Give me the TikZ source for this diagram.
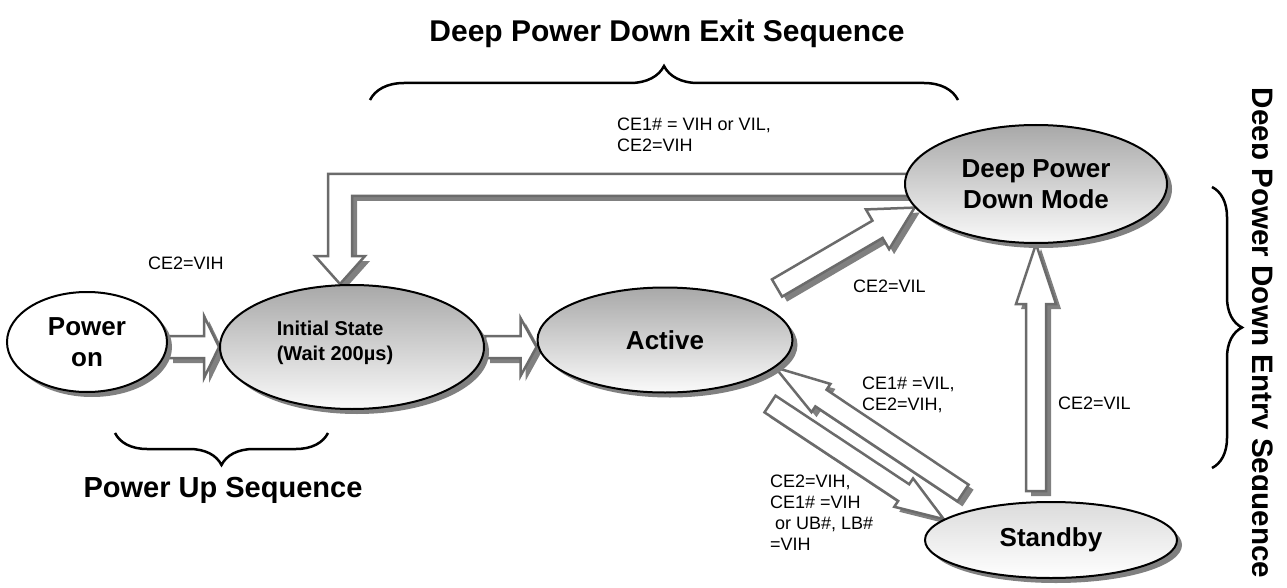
\documentclass[tikz,border=0pt]{standalone}
\usepackage{fontspec}
\setmainfont{Liberation Sans}
\usetikzlibrary{shapes.geometric,shadows,calc,backgrounds,decorations.pathreplacing}

\definecolor{ovaltop}{gray}{0.66}
\definecolor{ovalbot}{gray}{0.98}
\definecolor{sbytop}{gray}{0.86}
\definecolor{arrowline}{gray}{0.42}
\definecolor{shadowgray}{gray}{0.5}

\tikzset{
  oval/.style={ellipse, draw=black, line width=2pt, inner sep=0pt, align=center,
    font=\fontsize{26}{31}\selectfont\bfseries,
    drop shadow={shadow xshift=5pt, shadow yshift=-5pt, fill=shadowgray, opacity=1}},
  grayoval/.style={oval, top color=ovaltop, bottom color=ovalbot},
  whiteoval/.style={oval, fill=white},
  lightoval/.style={oval, top color=sbytop, bottom color=white},
  cond/.style={anchor=north west, inner sep=0pt, align=left, font=\fontsize{18}{21}\selectfont},
  seqtitle/.style={inner sep=0pt, anchor=base, font=\fontsize{30}{36}\selectfont\bfseries},
  seqbrace/.style={decorate, decoration={brace, amplitude=#1}, line width=2.5pt},
  blockbody/.style={draw=arrowline, line width=2.5pt, fill=white, line join=miter,
    drop shadow={shadow xshift=5pt, shadow yshift=-5pt, fill=shadowgray, opacity=1}}
}

% block arrow: tail, tip, half shaft, half head, head length
\newcommand{\blockarrow}[5]{%
  \path[blockbody] let \p1=(#1), \p2=(#2),
    \n1={atan2(\y2-\y1,\x2-\x1)}, \n2={veclen(\x2-\x1,\y2-\y1)} in
    [shift={(\p1)}, rotate=\n1]
    (0,-#3) -- (\n2-#5,-#3) -- (\n2-#5,-#4) -- (\n2,0) -- (\n2-#5,#4)
    -- (\n2-#5,#3) -- (0,#3) -- cycle;
}

\begin{document}
\begin{tikzpicture}[x=1pt,y=1pt]
\useasboundingbox (0,0) rectangle (1287,-588);

% states
\node[whiteoval, minimum width=160pt, minimum height=100pt] (pwr) at (87,-342) {Power\\on};
\node[grayoval, minimum width=264pt, minimum height=124pt] (init) at (352,-347) {};
\node[inner sep=0pt, align=left, font=\fontsize{20}{25}\selectfont\bfseries]
  (initText) at ($(init)+(-17,4)$) {Initial State\\(Wait 200µs)};
\node[grayoval, minimum width=255pt, minimum height=105pt] (act) at (665,-340) {Active};
\node[grayoval, minimum width=262pt, minimum height=118pt] (dpd) at (1036,-184) {Deep Power\\Down Mode};
\node[lightoval, minimum width=252pt, minimum height=76pt] (sb) at (1051,-540) {Standby};

\coordinate (exitTail) at ($(dpd.west)+(8,-1)$);
\coordinate (exitTip) at ($(init.north)+(-12,0)$);
\coordinate (powTail) at (pwr.east |- init.west);
\coordinate (actTip) at (act.west |- init.east);
\coordinate (dpdTail) at (777,-288);
\coordinate (sleepTail) at ($(dpd.south)+(0,-247)$);
\coordinate (wakeTail) at (963,-493);
\coordinate (stbyTail) at (770,-404);

% transitions
\begin{scope}[on background layer]
\fill[white] (0,0) rectangle (1287,-588);
\path[blockbody] let \p1=(exitTail), \p2=(exitTip) in
  (\x1,\y1+11) -- (\x2-12,\y1+11) -- (\x2-12,\y2+28) -- (\x2-25,\y2+28) -- (\p2)
  -- (\x2+25,\y2+28) -- (\x2+12,\y2+28) -- (\x2+12,\y1-11) -- (\x1,\y1-11) -- cycle;
\blockarrow{powTail}{init.west}{11}{31}{15}
\blockarrow{init.east}{actTip}{11}{29}{16}
\blockarrow{dpdTail}{dpd.191}{10}{23}{43}
\blockarrow{sleepTail}{dpd.south}{10}{20}{60}
\blockarrow{wakeTail}{act.-14}{10}{17}{55}
\blockarrow{stbyTail}{sb.169}{10}{17}{48}
\end{scope}

% conditions
\node[cond] (pwrCond) at (148,-257) {CE2=VIH};
\node[cond] (exitCond) at (617,-118) {CE1\# = VIH or VIL,\\CE2=VIH};
\node[cond] (dpdCond) at (853,-280) {CE2=VIL};
\node[cond] (wakeCond) at (862,-377) {CE1\# =VIL,\\CE2=VIH,};
\node[cond] (sleepCond) at (1058,-397) {CE2=VIL};
\node[cond] (stbyCond) at (770,-475) {CE2=VIH,\\CE1\# =VIH\\\hspace*{5pt}or UB\#, LB\#\\=VIH};

% sequences
\node[seqtitle] (exitSeq) at (667,-42) {Deep Power Down Exit Sequence};
\draw[seqbrace=34pt] (370,-100) -- (958,-100);
\node[seqtitle, font=\fontsize{29}{35}\selectfont\bfseries] (upSeq) at (223,-497) {Power Up Sequence};
\draw[seqbrace=32pt] (328,-433) -- (115,-433);
\begin{scope}
\clip (1252,0) rectangle (1287,-588);
\node[seqtitle, rotate=-90, font=\fontsize{29.6}{35}\selectfont\bfseries] (entrySeq) at (1252,-333) {Deep Power Down Entry Sequence};
\end{scope}
\draw[seqbrace=30pt] (1212,-187) -- (1212,-468);
\end{tikzpicture}
\end{document}
